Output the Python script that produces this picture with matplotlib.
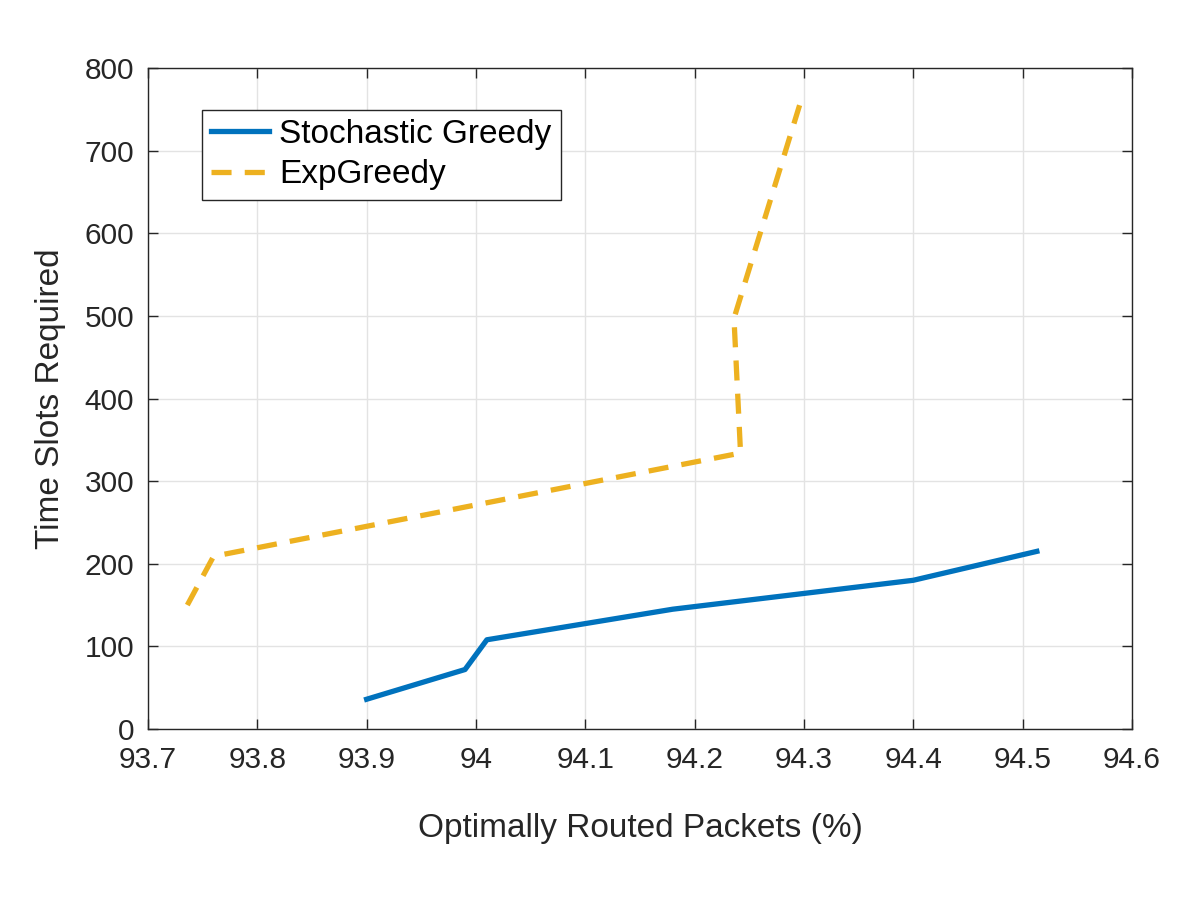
import numpy as np
import matplotlib
matplotlib.use("Agg")
import matplotlib.pyplot as plt

plt.rcParams['font.family'] = ['Liberation Sans', 'DejaVu Sans']

# Datos
x_sg = [93.90, 93.99, 94.01, 94.18, 94.40, 94.513]
y_sg = [36, 72, 108, 145, 180, 215]
x_eg = [93.736, 93.76, 94.242, 94.236, 94.296]
y_eg = [150, 209, 334, 497, 755]

labels = ["Stochastic Greedy", "ExpGreedy"]
xticks = [93.7, 93.8, 93.9, 94, 94.1, 94.2, 94.3, 94.4, 94.5, 94.6]
xticklabels = ["93.7", "93.8", "93.9", "94", "94.1", "94.2", "94.3", "94.4", "94.5", "94.6"]
yticks = [0, 100, 200, 300, 400, 500, 600, 700, 800]

fig = plt.figure(figsize=(12, 9), dpi=100)
ax = fig.add_axes([0.1233, 0.19, 0.82, 0.7344])
tc = "#262626"

ax.plot(x_sg, y_sg, "-", color="#0072BD", lw=3.8, label=labels[0])
ax.plot(x_eg, y_eg, "--", color="#EDB120", lw=3.8, dashes=(3.8, 2.5), label=labels[1])

ax.set_xlim(93.7, 94.6); ax.set_ylim(0, 800)
ax.set_xticks(xticks); ax.set_xticklabels(xticklabels)
ax.set_yticks(yticks)
ax.grid(True, color="#e3e3e3", lw=1)
ax.set_axisbelow(True)
ax.tick_params(direction="in", top=True, right=True, labelsize=21.5, colors=tc, length=7, width=1)
ax.tick_params(axis="x", pad=12)
ax.tick_params(axis="y", pad=10)
for s in ax.spines.values():
    s.set_color(tc); s.set_linewidth(1)
ax.set_xlabel("Optimally Routed Packets (%)", fontsize=24, color=tc, labelpad=28)
ax.set_ylabel("Time Slots Required", fontsize=24, color=tc, labelpad=13)

leg = ax.legend(loc="upper left", bbox_to_anchor=(0.168, 0.878), bbox_transform=fig.transFigure,
                fontsize=24, fancybox=False, framealpha=1, edgecolor="#262626",
                handlelength=1.75, borderpad=0.28, labelspacing=0.28, handletextpad=0.3, borderaxespad=0)
leg.get_frame().set_linewidth(1)

fig.savefig("out.png", dpi=100)
